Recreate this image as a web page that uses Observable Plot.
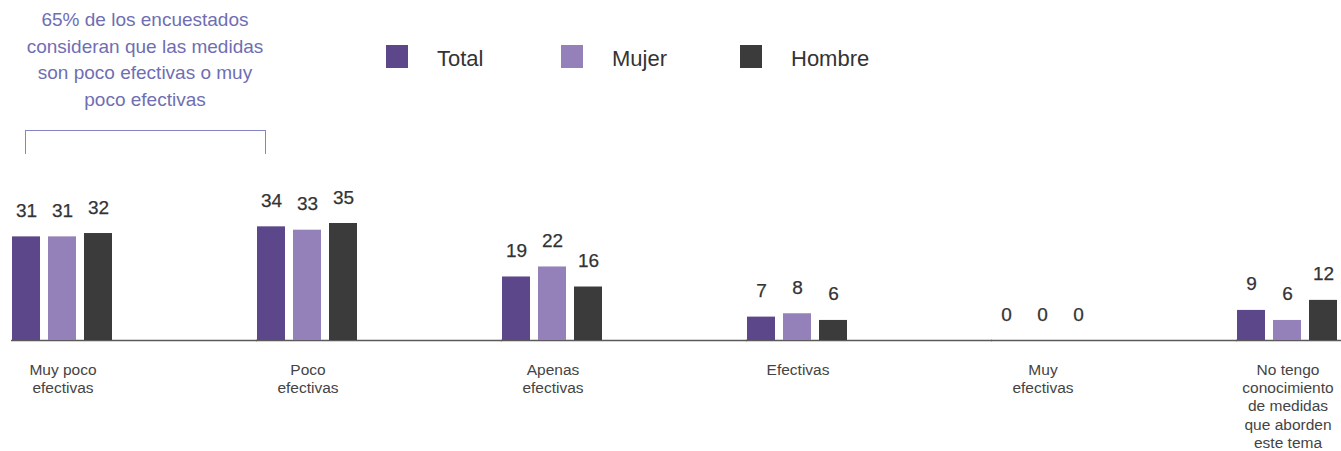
<!DOCTYPE html>
<html><head><meta charset="utf-8">
<script src="https://cdn.jsdelivr.net/npm/d3@7"></script>
<script src="https://cdn.jsdelivr.net/npm/@observablehq/plot@0.6"></script>
<style>
body{margin:0;background:#fff;font-family:"Helvetica Neue",Helvetica,Arial,"Liberation Sans",sans-serif;}
#wrap{position:relative;width:1341px;height:451px;overflow:hidden;}
#wrap svg{position:absolute;left:0;top:0;}
.note{position:absolute;left:0;top:7px;width:290px;text-align:center;font-size:19px;line-height:26.7px;color:#6f6eb3;white-space:nowrap;}
.bracket{position:absolute;left:25px;top:130px;width:239px;height:23px;border:1px solid #8584c4;border-bottom:none;}
.sw{position:absolute;top:45px;width:22px;height:23px;}
.lt{position:absolute;top:47px;font-size:22px;line-height:23px;color:#333;white-space:nowrap;}
</style></head><body><div id="wrap"></div>
<script>
const categories = ["Muy poco efectivas","Poco efectivas","Apenas efectivas","Efectivas","Muy efectivas","No tengo conocimiento de medidas que aborden este tema"];
const tickLabels = ["Muy poco\nefectivas","Poco\nefectivas","Apenas\nefectivas","Efectivas","Muy\nefectivas","No tengo\nconocimiento\nde medidas\nque aborden\neste tema"];
const series = ["Total","Mujer","Hombre"];
const total = [31,34,19,7,0,9];
const mujer = [31,33,22,8,0,6];
const hombre = [32,35,16,6,0,12];
const colors = ["#5c478b","#9581b9","#3b3b3b"];
const annotationLines = ["65% de los encuestados","consideran que las medidas","son poco efectivas o muy","poco efectivas"];

const valuesBySeries = [total, mujer, hombre];
const rows = categories.flatMap((c, i) => series.map((s, j) => ({cat: c, series: s, value: valuesBySeries[j][i]})));
const catRows = categories.map((c, i) => ({cat: c, label: tickLabels[i]}));

const chart = Plot.plot({
  width: 1341, height: 451,
  marginLeft: 10, marginRight: 1, marginTop: 223, marginBottom: 111,
  style: {fontFamily: '"Helvetica Neue",Helvetica,Arial,"Liberation Sans",sans-serif', background: "transparent"},
  facet: {marginLeft: 0, marginRight: 0, marginTop: 0, marginBottom: 0},
  fx: {domain: categories, paddingInner: 0.58, paddingOuter: 0, axis: null, label: null},
  x: {domain: series, paddingInner: 0.216, paddingOuter: 0, axis: null, label: null},
  y: {domain: [0, 35], axis: null, label: null},
  color: {domain: series, range: colors},
  marks: [
    Plot.ruleY([0], {stroke: "#5a5a5a", strokeWidth: 1.3, insetRight: -143}),
    Plot.barY(rows, {fx: "cat", x: "series", y: "value", fill: "series"}),
    Plot.text(rows, {fx: "cat", x: "series", y: "value", text: d => String(d.value), lineAnchor: "bottom", dy: -20, fontSize: 19, fill: "#333", stroke: "#333", strokeWidth: 0.25}),
    Plot.text(catRows, {fx: "cat", text: "label", frameAnchor: "bottom", lineAnchor: "top", dy: 21, fontSize: 15.5, lineHeight: 1.19, fill: "#444"})
  ]
});
const wrap = document.getElementById("wrap");
wrap.appendChild(chart);

const note = document.createElement("div");
note.className = "note";
note.innerHTML = annotationLines.join("<br>");
wrap.appendChild(note);
const br = document.createElement("div");
br.className = "bracket";
wrap.appendChild(br);

const swX = [386, 561, 740], txX = [437, 612, 791];
series.forEach((s, i) => {
  const sw = document.createElement("div");
  sw.className = "sw"; sw.style.left = swX[i] + "px"; sw.style.background = colors[i];
  wrap.appendChild(sw);
  const t = document.createElement("div");
  t.className = "lt"; t.style.left = txX[i] + "px"; t.textContent = s;
  wrap.appendChild(t);
});
</script></body></html>
